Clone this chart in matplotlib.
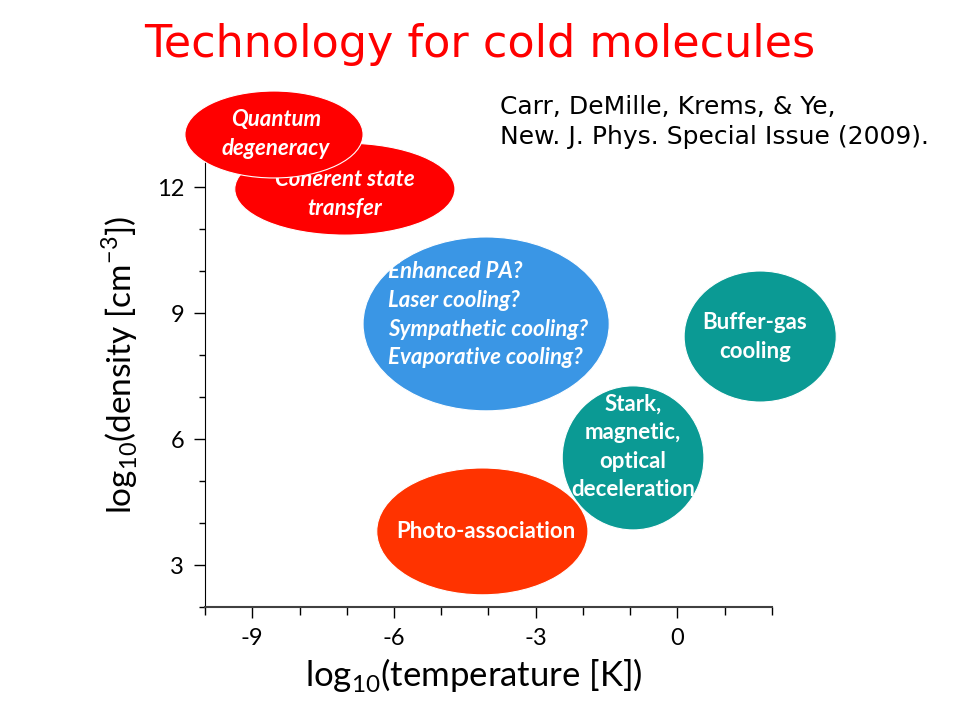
import numpy as np
import matplotlib.pyplot as plt
from matplotlib.patches import Ellipse

plt.rcParams["font.family"] = ["Lato", "DejaVu Sans"]
plt.rcParams["mathtext.fontset"] = "custom"
plt.rcParams["mathtext.rm"] = "Lato"
plt.rcParams["axes.unicode_minus"] = False

# bubbles: centre (log10 T, log10 n), width, height
labels = [
    "Enhanced PA?\nLaser cooling?\nSympathetic cooling?\nEvaporative cooling?",
    "Photo-association",
    "Stark,\nmagnetic,\noptical\ndeceleration",
    "Buffer-gas\ncooling",
    "Coherent state\ntransfer",
    "Quantum\ndegeneracy",
]
center_x = [-4.05, -4.13, -0.94, 1.75, -7.04, -8.54]
center_y = [8.74, 3.80, 5.55, 8.44, 11.95, 13.25]
widths = [5.21, 4.47, 3.00, 3.22, 4.66, 3.77]
heights = [4.14, 3.02, 3.43, 3.12, 2.19, 2.07]
colors = ["#3A96E5", "#FF3300", "#0B9A94", "#0B9A94", "#FF0000", "#FF0000"]
text_x = [-6.13, -4.05, -0.94, 1.64, -7.04, -8.50]
text_y = [8.96, 3.79, 5.81, 8.43, 11.83, 13.26]
italic = [True, False, False, False, True, True]

x_ticks = [-9, -6, -3, 0]
y_ticks = [3, 6, 9, 12]

fig = plt.figure(figsize=(9.6, 7.2), dpi=100)
ax = fig.add_axes([205 / 960, 1 - 607 / 720, 567 / 960, 462 / 720])

ax.set_xlim(-10, 2)
ax.set_ylim(2, 13)
ax.set_xticks(x_ticks)
ax.set_yticks(y_ticks)
ax.set_xticks(np.arange(-10, 3, 1), minor=True)
ax.set_yticks(np.arange(2, 13, 1), minor=True)
ax.tick_params(which="major", length=8, width=1, labelsize=17, pad=7)
ax.tick_params(which="minor", length=6, width=1)
ax.tick_params(axis="y", which="minor", length=4)
for s in ["top", "right"]:
    ax.spines[s].set_visible(False)
ax.spines["bottom"].set_color("#404040")
ax.spines["bottom"].set_linewidth(1.5)

for i in range(len(labels)):
    e = Ellipse((center_x[i], center_y[i]), widths[i], heights[i],
                facecolor=colors[i], edgecolor="white", lw=0.8,
                clip_on=False, zorder=3 + i)
    ax.add_patch(e)
    ha = "left" if i == 0 else "center"
    ax.text(text_x[i], text_y[i], labels[i], ha=ha, va="center",
            color="white", fontsize=16, fontweight="bold",
            style="italic" if italic[i] else "normal",
            linespacing=1.45, zorder=3 + i, clip_on=False)

fig.text(0.5, 1 - 45 / 720, "Technology for cold molecules", color="#FF0000",
         fontsize=32, ha="center", va="center",
         family=["DejaVu Sans"])
fig.text(500 / 960, 1 - 122 / 720,
         "Carr, DeMille, Krems, & Ye,\nNew. J. Phys. Special Issue (2009).",
         fontsize=18, ha="left", va="center", linespacing=1.35,
         family=["DejaVu Sans"])

fig.text(474 / 960, 1 - 675 / 720, r"log$_{\mathregular{10}}$(temperature [K])",
         fontsize=25, ha="center", va="center")
fig.text(120 / 960, 1 - 365 / 720,
         r"log$_{\mathregular{10}}$(density [cm$^{\mathregular{-3}}$])",
         fontsize=24, ha="center", va="center", rotation=90)

fig.savefig("out.png", dpi=100)
